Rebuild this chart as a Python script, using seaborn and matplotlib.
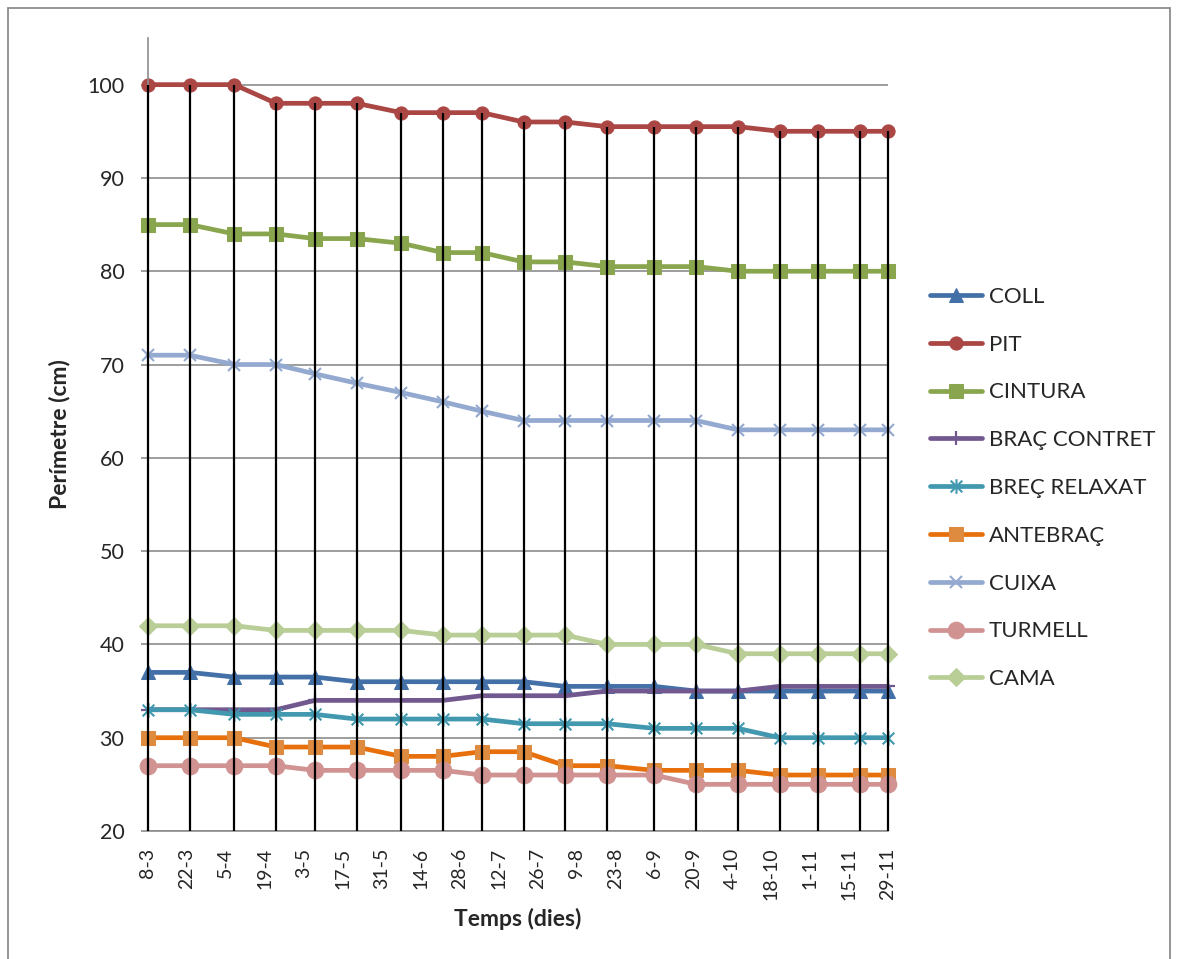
import numpy as np
import pandas as pd
import matplotlib
matplotlib.use("Agg")
import matplotlib.pyplot as plt
from matplotlib.path import Path
from matplotlib.patches import Rectangle
import seaborn as sns

# Measurement day (days since 8 March) for each recorded point
days = [0, 15, 31, 46, 60, 75, 91, 106, 120, 135, 150, 165, 182, 197, 212, 227, 241, 256, 266]

# Biweekly calendar labels along the time axis
date_labels = ["8-3", "22-3", "5-4", "19-4", "3-5", "17-5", "31-5", "14-6", "28-6", "12-7",
               "26-7", "9-8", "23-8", "6-9", "20-9", "4-10", "18-10", "1-11", "15-11", "29-11"]

# Perimeters (cm)
coll = [37, 37, 36.5, 36.5, 36.5, 36, 36, 36, 36, 36, 35.5, 35.5, 35.5, 35, 35, 35, 35, 35, 35]
pit = [100, 100, 100, 98, 98, 98, 97, 97, 97, 96, 96, 95.5, 95.5, 95.5, 95.5, 95, 95, 95, 95]
cintura = [85, 85, 84, 84, 83.5, 83.5, 83, 82, 82, 81, 81, 80.5, 80.5, 80.5, 80, 80, 80, 80, 80]
brac_contret = [33, 33, 33, 33, 34, 34, 34, 34, 34.5, 34.5, 34.5, 35, 35, 35, 35, 35.5, 35.5, 35.5, 35.5]
brec_relaxat = [33, 33, 32.5, 32.5, 32.5, 32, 32, 32, 32, 31.5, 31.5, 31.5, 31, 31, 31, 30, 30, 30, 30]
antebrac = [30, 30, 30, 29, 29, 29, 28, 28, 28.5, 28.5, 27, 27, 26.5, 26.5, 26.5, 26, 26, 26, 26]
cuixa = [71, 71, 70, 70, 69, 68, 67, 66, 65, 64, 64, 64, 64, 64, 63, 63, 63, 63, 63]
turmell = [27, 27, 27, 27, 26.5, 26.5, 26.5, 26.5, 26, 26, 26, 26, 26, 25, 25, 25, 25, 25, 25]
cama = [42, 42, 42, 41.5, 41.5, 41.5, 41.5, 41, 41, 41, 41, 40, 40, 40, 39, 39, 39, 39, 39]

series_names = ["COLL", "PIT", "CINTURA", "BRAÇ CONTRET", "BREÇ RELAXAT",
                "ANTEBRAÇ", "CUIXA", "TURMELL", "CAMA"]
series_values = [coll, pit, cintura, brac_contret, brec_relaxat, antebrac, cuixa, turmell, cama]

# asterisk marker: an x crossed by a vertical stroke
asterisk = Path([(-1, -1), (1, 1), (-1, 1), (1, -1), (0, -1.25), (0, 1.25)],
                [Path.MOVETO, Path.LINETO, Path.MOVETO, Path.LINETO, Path.MOVETO, Path.LINETO])

styles = {
    "COLL":         dict(color="#4470A8", marker="^", markersize=10),
    "PIT":          dict(color="#AA4643", marker="o", markersize=9.5),
    "CINTURA":      dict(color="#89A54E", marker="s", markersize=9.5),
    "BRAÇ CONTRET": dict(color="#71588F", marker="+", markersize=10, markeredgewidth=1.6),
    "BREÇ RELAXAT": dict(color="#4198AF", marker=asterisk, markersize=10.5, markeredgewidth=1.5,
                         markerfacecolor="none"),
    "ANTEBRAÇ":     dict(color="#E8700C", marker="s", markersize=10,
                         markerfacecolor="#DE8A3F", markeredgecolor="#DE8A3F"),
    "CUIXA":        dict(color="#93A9CF", marker="x", markersize=9, markeredgewidth=1.5),
    "TURMELL":      dict(color="#D09392", marker="o", markersize=12),
    "CAMA":         dict(color="#B9CD96", marker="D", markersize=9),
}

df = pd.DataFrame({"dia": days})
for name, vals in zip(series_names, series_values):
    df[name] = vals

sns.set_theme(style="white")
plt.rcParams["font.family"] = ["Lato", "DejaVu Sans"]

fig = plt.figure(figsize=(11.78, 9.59), dpi=100)
ax = fig.add_axes([148 / 1178, 1 - 831 / 959, 740 / 1178, 793 / 959])

for name in series_names:
    st = dict(styles[name])
    sns.lineplot(data=df, x="dia", y=name, ax=ax, label=name, linewidth=3.4,
                 markeredgecolor=st.pop("markeredgecolor", st["color"]),
                 clip_on=False, **st)

# drop lines from the highest series down to the axis
top = df[series_names].max(axis=1)
ax.vlines(df["dia"], 20, top, colors="black", linewidth=1.6, zorder=10, clip_on=False)

ax.set_xlim(days[0], days[-1])
ax.set_ylim(20, 105)
ax.set_yticks(np.arange(20, 101, 10))
ax.set_xticks(np.arange(0, days[-1] + 1, 14))
ax.set_xticklabels(date_labels, rotation=90, fontsize=14)
ax.tick_params(axis="x", length=0, pad=12)
ax.tick_params(axis="y", length=5, width=1.2, color="#8C8C8C", pad=12, labelsize=15.5, left=True)

ax.grid(axis="y", color="#8C8C8C", linewidth=1.2)
ax.grid(axis="x", visible=False)
ax.set_axisbelow(True)
for side in ("top", "right"):
    ax.spines[side].set_visible(False)
for side in ("left", "bottom"):
    ax.spines[side].set_color("#8C8C8C")
    ax.spines[side].set_linewidth(1.2)

ax.set_xlabel("Temps (dies)", fontsize=16.5, fontweight="bold")
ax.set_ylabel("Perímetre (cm)", fontsize=16.5, fontweight="bold")
ax.xaxis.set_label_coords(0.5, -0.111)
ax.xaxis.label.set_va("center")
ax.yaxis.set_label_coords(-0.12, 0.5)
ax.yaxis.label.set_va("center")

leg = ax.legend(loc="center left", bbox_to_anchor=(930 / 1178, 1 - 488 / 959),
                bbox_transform=fig.transFigure, frameon=False, fontsize=16,
                handlelength=2.35, handletextpad=0.3, labelspacing=1.25, borderpad=0,
                borderaxespad=0)

# outer chart border
fig.patches.append(Rectangle((8 / 1178, -0.02), 1162 / 1178, 1 - 8 / 959 + 0.02,
                             transform=fig.transFigure, fill=False,
                             edgecolor="#8C8C8C", linewidth=1.3))

fig.savefig("out.png", dpi=100)
